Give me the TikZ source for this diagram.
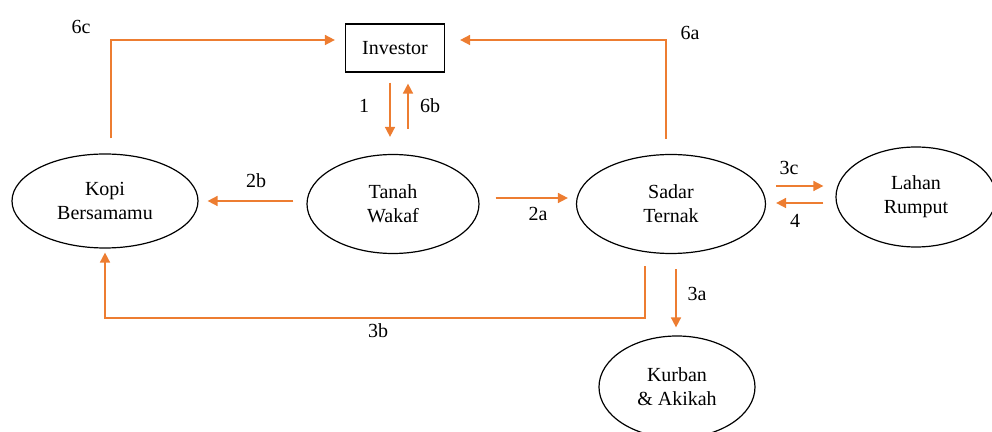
\documentclass[tikz,border=0pt]{standalone}
\usepackage{fontspec}
\setmainfont{Liberation Serif}
\usetikzlibrary{shapes.geometric,arrows.meta}
\definecolor{flowor}{RGB}{237,125,49}

\begin{document}
\begin{tikzpicture}[x=0.5pt, y=-0.5pt, font=\fontsize{10}{12}\selectfont,
    unit/.style={draw, ellipse, line width=0.6pt, inner sep=0pt, align=center},
    box/.style={draw, rectangle, line width=0.6pt, minimum width=49.5pt, minimum height=24pt},
    flow/.style={draw=flowor, line width=0.8pt, -{Triangle[length=5pt,width=5pt]}},
    lbl/.style={inner sep=0pt}]
    \useasboundingbox (0,0) rectangle (992,432);

    \node[box] (inv) at (395,48) {Investor};
    \node[unit, minimum width=93pt, minimum height=47pt] (kopi) at (105,201) {Kopi\\Bersamamu};
    \node[unit, minimum width=86pt, minimum height=49.5pt] (tanah) at (393,204) {Tanah\\Wakaf};
    \node[unit, minimum width=94.5pt, minimum height=49.5pt] (sadar) at (671,204) {Sadar\\Ternak};
    \node[unit, minimum width=80pt, minimum height=50pt] (lahan) at (916,197) {Lahan\\Rumput};
    \node[unit, minimum width=78pt, minimum height=51pt] (kurban) at (677,387) {Kurban\\\& Akikah};

    % investor links
    \coordinate (a1) at ([xshift=-2.5pt,yshift=-5pt]inv.south);
    \coordinate (b6) at ([xshift=6.5pt,yshift=-5.5pt]inv.south);
    \draw[flow, shorten >=8.5pt] (a1) -- (a1 |- tanah.north);
    \draw[flow, shorten <=12.5pt] (b6 |- tanah.north) -- (b6);
    \draw[flow] ([xshift=3pt,yshift=7.5pt]kopi.north) |- ([xshift=-5pt,yshift=4pt]inv.west);
    \draw[flow] ([xshift=-2.5pt,yshift=7.5pt]sadar.north) |- ([xshift=7.5pt,yshift=4pt]inv.east);

    % middle row
    \coordinate (c2) at ([yshift=3pt]tanah.east);
    \coordinate (c3) at ([yshift=9pt]sadar.east);
    \coordinate (c4) at ([yshift=0.5pt]sadar.east);
    \draw[flow, shorten <=6.5pt, shorten >=4.5pt] (tanah.west |- kopi.east) -- (kopi.east);
    \draw[flow, shorten <=8pt, shorten >=4pt] (c2) -- (c2 -| sadar.west);
    \draw[flow, shorten <=5pt, shorten >=6pt] (c3) -- (c3 -| lahan.west);
    \draw[flow, shorten <=6pt, shorten >=5pt] (c4 -| lahan.west) -- (c4);

    % lower links
    \coordinate (d3) at ([xshift=-13pt,yshift=-6pt]sadar.south);
    \coordinate (low) at ([yshift=-26pt]d3);
    \coordinate (d4) at ([xshift=2.5pt,yshift=-7.5pt]sadar.south);
    \draw[flow, shorten >=2pt] (d3) -- (low) -| (kopi.south);
    \draw[flow, shorten >=4pt] (d4) -- (d4 |- kurban.north);

    % labels
    \node[lbl] (l6c) at (81,27) {6c};
    \node[lbl] (l6a) at (690,33) {6a};
    \node[lbl] (l1) at (364,106) {1};
    \node[lbl] (l6b) at (430,106) {6b};
    \node[lbl] (l2b) at (256,181) {2b};
    \node[lbl] (l2a) at (538,214) {2a};
    \node[lbl] (l3c) at (789,168) {3c};
    \node[lbl] (l4) at (795,221) {4};
    \node[lbl] (l3b) at (378,331) {3b};
    \node[lbl] (l3a) at (697,294) {3a};
\end{tikzpicture}
\end{document}
